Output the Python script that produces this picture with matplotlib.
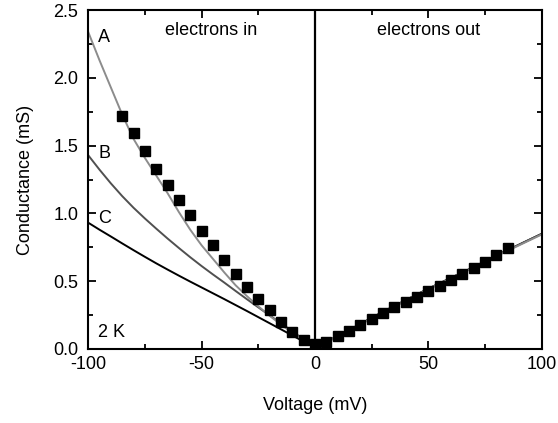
import matplotlib

matplotlib.use("Agg")
import matplotlib.pyplot as plt
from matplotlib.ticker import MultipleLocator, FormatStrFormatter, FuncFormatter

plt.rcParams["font.family"] = ["Liberation Sans", "DejaVu Sans"]

# measured conductance at 2 K
v_meas = [-85, -80, -75, -70, -65, -60, -55, -50, -45, -40, -35, -30, -25, -20, -15, -10, -5,
          0, 5, 10, 15, 20, 25, 30, 35, 40, 45, 50, 55, 60, 65, 70, 75, 80, 85]
g_meas = [1.72, 1.59, 1.46, 1.33, 1.21, 1.10, 0.985, 0.87, 0.765, 0.66, 0.555, 0.46, 0.37, 0.285,
          0.20, 0.128, 0.066,
          0.037, 0.054, 0.096, 0.135, 0.177, 0.221, 0.263, 0.307, 0.347, 0.386, 0.428, 0.462,
          0.506, 0.555, 0.595, 0.642, 0.69, 0.743]

# model curves A, B, C
v_model = [-100, -95, -90, -85, -80, -75, -70, -65, -60, -55, -50, -45, -40, -35, -30, -25,
           -20, -15, -10, -5, 0, 10, 20, 30, 40, 50, 60, 70, 80, 90, 100]
g_a = [2.34, 2.13, 1.93, 1.73, 1.55, 1.41, 1.28, 1.15, 1.01, 0.88, 0.765, 0.665, 0.565, 0.47,
       0.39, 0.315, 0.245, 0.18, 0.12, 0.065, 0.01,
       0.09, 0.18, 0.27, 0.355, 0.44, 0.52, 0.60, 0.685, 0.765, 0.845]
g_b = [1.43, 1.323, 1.222, 1.128, 1.042, 0.963, 0.888, 0.815, 0.745, 0.677, 0.612, 0.55, 0.49,
       0.428, 0.367, 0.307, 0.248, 0.19, 0.131, 0.071, 0.01,
       0.095, 0.185, 0.275, 0.36, 0.445, 0.525, 0.605, 0.69, 0.77, 0.85]
g_c = [0.932, 0.88, 0.83, 0.779, 0.729, 0.68, 0.632, 0.586, 0.541, 0.497, 0.454, 0.411, 0.368,
       0.324, 0.28, 0.235, 0.19, 0.145, 0.10, 0.055, 0.01,
       0.095, 0.185, 0.275, 0.36, 0.445, 0.525, 0.605, 0.69, 0.77, 0.85]

fig = plt.figure(figsize=(5.58, 4.23), dpi=100)
ax = fig.add_axes([0.158, 0.175, 0.813, 0.801])

ax.plot(v_model, g_c, color="#000000", lw=1.4, zorder=2)
ax.plot(v_model, g_b, color="#505050", lw=1.4, zorder=2)
ax.plot(v_model, g_a, color="#8c8c8c", lw=1.4, zorder=2)
ax.axvline(0, color="black", lw=1.6, zorder=1)
ax.plot(v_meas, g_meas, "s", color="black", ms=6.5, zorder=3)

ax.set_xlim(-100, 100)
ax.set_ylim(0, 2.5)
ax.xaxis.set_major_locator(MultipleLocator(50))
ax.xaxis.set_minor_locator(MultipleLocator(25))
ax.yaxis.set_major_locator(MultipleLocator(0.5))
ax.yaxis.set_minor_locator(MultipleLocator(0.25))
ax.yaxis.set_major_formatter(FormatStrFormatter("%.1f"))
ax.xaxis.set_major_formatter(FuncFormatter(lambda v, p: f"{v:.0f}"))
ax.tick_params(which="both", direction="in", top=True, right=True, width=1.3, labelsize=13)
ax.tick_params(axis="x", which="major", length=6, pad=5)
ax.tick_params(axis="y", which="major", length=6, pad=7)
ax.tick_params(which="minor", length=3.5)
for sp in ax.spines.values():
    sp.set_linewidth(1.5)

ax.set_xlabel("Voltage (mV)", fontsize=13, labelpad=17)
ax.set_ylabel("Conductance (mS)", fontsize=13, labelpad=14)

ax.text(-46, 2.35, "electrons in", fontsize=13, ha="center", va="center")
ax.text(50, 2.35, "electrons out", fontsize=13, ha="center", va="center")
ax.text(-95.5, 2.30, "A", fontsize=13, ha="left", va="center")
ax.text(-95.5, 1.44, "B", fontsize=13, ha="left", va="center")
ax.text(-95.5, 0.96, "C", fontsize=13, ha="left", va="center")
ax.text(-95.5, 0.12, "2 K", fontsize=13, ha="left", va="center")

fig.savefig("out.png", dpi=100)
